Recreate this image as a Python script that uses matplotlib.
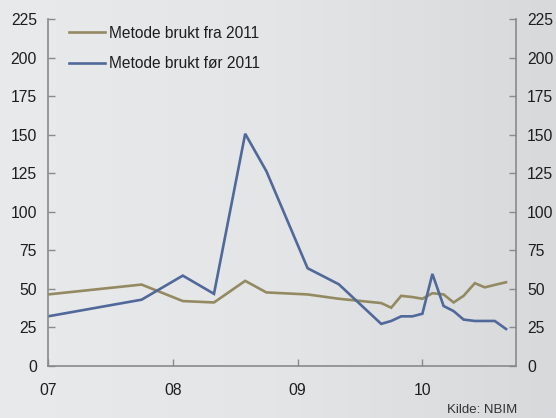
import numpy as np
import matplotlib
matplotlib.use("Agg")
import matplotlib.pyplot as plt
from matplotlib.colors import LinearSegmentedColormap

plt.rcParams['font.family'] = ['Liberation Sans', 'DejaVu Sans']

# Data (x in fractional years)
x_fra = [2007.0, 2007.75, 2008.08, 2008.33, 2008.58, 2008.75, 2009.08, 2009.33,
         2009.67, 2009.75, 2009.83, 2009.92, 2010.0, 2010.08, 2010.17, 2010.25,
         2010.33, 2010.42, 2010.5, 2010.58, 2010.67]
y_fra = [46.4, 52.8, 42.1, 41.2, 55.2, 47.7, 46.4, 43.6,
         40.8, 37.8, 45.5, 44.7, 43.6, 47.2, 46.4, 41.2,
         45.5, 53.7, 51.0, 52.6, 54.3]
x_for = x_fra
y_for = [32.2, 43.0, 58.6, 46.8, 150.6, 126.3, 63.4, 53.0,
         27.3, 29.2, 32.2, 32.2, 33.9, 59.7, 38.9, 35.6,
         30.1, 29.2, 29.2, 29.2, 24.0]
label_fra = "Metode brukt fra 2011"
label_for = "Metode brukt før 2011"
xticks = [2007, 2008, 2009, 2010]
xticklabels = ["07", "08", "09", "10"]
yticks = [0, 25, 50, 75, 100, 125, 150, 175, 200, 225]

gold = "#948a62"
blue = "#50699a"
spine_c = "#8a8a8a"
txt_c = "#1e1e1e"

fig = plt.figure(figsize=(5.56, 4.18), dpi=100)

# Background gradient
bg = fig.add_axes([0, 0, 1, 1], zorder=-10)
cmap = LinearSegmentedColormap.from_list("bg", ["#e9eaeb", "#e4e5e6", "#d8d9db"])
bg.imshow(np.linspace(0, 1, 256).reshape(1, -1), aspect='auto', cmap=cmap,
          extent=[0, 1, 0, 1])
bg.set_axis_off()

ax = fig.add_axes([48/556, 1-366/418, (516-48)/556, (366-19)/418])
ax.patch.set_alpha(0)
ax.plot(x_fra, y_fra, color=gold, lw=1.9, label=label_fra, solid_joinstyle='miter')
ax.plot(x_for, y_for, color=blue, lw=1.9, label=label_for, solid_joinstyle='miter')

ax.set_xlim(2007, 2010.75)
ax.set_ylim(0, 225)
ax.set_xticks(xticks)
ax.set_xticklabels(xticklabels)
ax.set_yticks(yticks)

ax.spines['top'].set_visible(False)
for s in ['left', 'right', 'bottom']:
    ax.spines[s].set_color(spine_c)
    ax.spines[s].set_linewidth(1.2)

ax.tick_params(axis='both', direction='in', color=spine_c, length=5, width=1,
               labelsize=11.3, labelcolor=txt_c)
ax.tick_params(axis='y', left=True, right=True, labelleft=True, labelright=True, pad=8)
ax.tick_params(axis='x', pad=12)

leg = ax.legend(loc='upper left', bbox_to_anchor=(0.032, 0.998), frameon=False,
                fontsize=11.2, handlelength=2.3, handletextpad=0.25,
                labelspacing=1.0, borderaxespad=0)
for t in leg.get_texts():
    t.set_color(txt_c)

fig.text(517/556, 1-410/418, "Kilde: NBIM", ha='right', va='center',
         fontsize=9.5, color="#333333")

fig.savefig("out.png", dpi=100)
